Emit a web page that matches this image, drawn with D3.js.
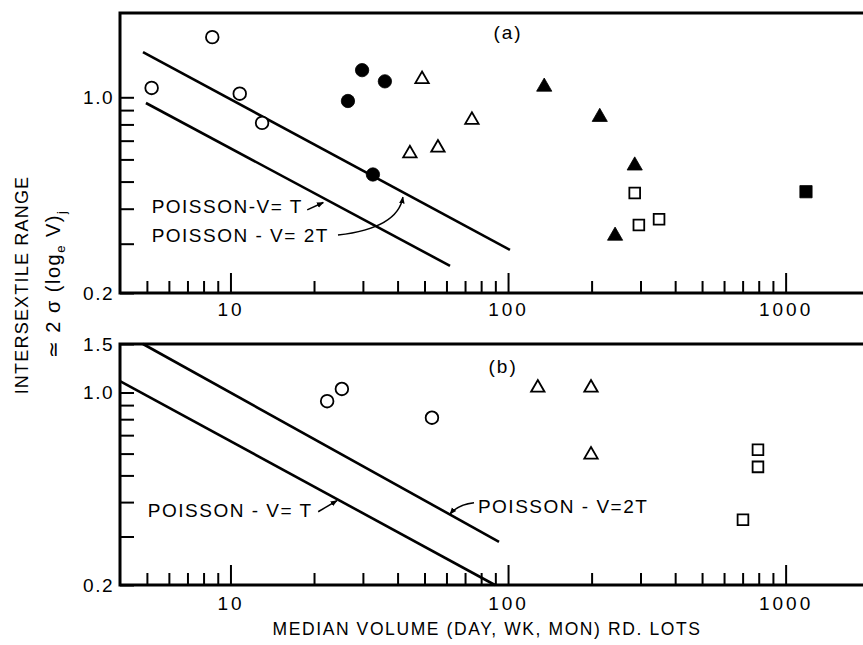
<!DOCTYPE html>
<html>
<head>
<meta charset="utf-8">
<script src="https://cdn.jsdelivr.net/npm/d3@7"></script>
<style>
  body { margin: 0; background: #fff; }
  svg { display: block; }
  text { font-family: 'Liberation Sans', Arial, sans-serif; fill: #000; }
</style>
</head>
<body>
<div id="chart"></div>
<script>
// intersextile range vs median volume, two panels (a) and (b), log-log

// tick values
var xMajorTicks = [10, 100, 1000]
var xMinorTicks = [5, 6, 7, 8, 9, 20, 30, 40, 50, 60, 70, 80, 90,
  200, 300, 400, 500, 600, 700, 800, 900]
var yMinorTicks = [0.3, 0.4, 0.5, 0.6, 0.7, 0.8, 0.9]
var yLabelsA = [0.2, 1.0]
var yLabelsB = [0.2, 1.0, 1.5]

// panel (a) points: [median volume, range]
var aOpenCircles = [[5.2, 1.08], [8.6, 1.64], [10.8, 1.03], [13.0, 0.81]]
var aFilledCircles = [[26.5, 0.97], [29.8, 1.25], [36.0, 1.14], [32.6, 0.53]]
var aOpenTriangles = [[49, 1.16], [44.3, 0.63], [55.9, 0.66], [74.1, 0.83]]
var aFilledTriangles = [[135, 1.09], [214, 0.85], [286, 0.57], [243, 0.32]]
var aOpenSquares = [[286, 0.455], [296, 0.35], [350, 0.367]]
var aFilledSquares = [[1184, 0.46]]
var aPoissonT = [[4.96, 0.954], [61.8, 0.25]]
var aPoisson2T = [[4.84, 1.45], [101.6, 0.285]]

// panel (b) points
var bOpenCircles = [[22.3, 0.93], [25.2, 1.03], [53.2, 0.81]]
var bOpenTriangles = [[128, 1.04], [199, 1.04], [199, 0.594]]
var bOpenSquares = [[795, 0.62], [795, 0.537], [702, 0.345]]
var bPoissonT = [[4.0, 1.10], [89.7, 0.2]]
var bPoisson2T = [[4.84, 1.5], [92.8, 0.287]]

var width = 863
var height = 645

var svg = d3.select('#chart')
  .append('svg')
  .attr('width', width)
  .attr('height', height)

svg.append('defs').append('marker')
  .attr('id', 'head')
  .attr('viewBox', '0 0 10 10')
  .attr('refX', 9)
  .attr('refY', 5)
  .attr('markerWidth', 7)
  .attr('markerHeight', 7)
  .attr('markerUnits', 'userSpaceOnUse')
  .attr('orient', 'auto')
  .append('path')
  .attr('d', 'M0,1 L10,5 L0,9 Z')
  .attr('fill', '#000')

// shared x scale
var x = d3.scaleLog().domain([4, 1900]).range([120, 863])

var drawPanel = function (cfg) {
  var y = d3.scaleLog().domain(cfg.yDomain).range(cfg.yRange)
  var g = svg.append('g')
  var top = cfg.yRange[1]
  var bottom = cfg.yRange[0]

  // minor ticks x
  g.append('g')
    .attr('transform', 'translate(0,' + bottom + ')')
    .call(d3.axisBottom(x).tickValues(xMinorTicks).tickSize(-12).tickSizeOuter(0).tickFormat(''))
  // major ticks x with labels
  g.append('g')
    .attr('class', 'xmajor')
    .attr('transform', 'translate(0,' + bottom + ')')
    .call(d3.axisBottom(x).tickValues(xMajorTicks).tickSize(-20).tickSizeOuter(0)
      .tickPadding(cfg.xPad).tickFormat(d3.format('d')))
  // y ticks
  g.append('g')
    .attr('transform', 'translate(120,0)')
    .call(d3.axisLeft(y).tickValues(yMinorTicks).tickSize(-14).tickSizeOuter(0).tickFormat(''))
  g.append('g')
    .attr('transform', 'translate(120,0)')
    .call(d3.axisLeft(y).tickValues(cfg.yLabels).tickSize(-14).tickSizeOuter(0)
      .tickPadding(6).tickFormat(d3.format('.1f')))

  g.selectAll('.domain').remove()
  g.selectAll('.tick line').attr('stroke', '#000').attr('stroke-width', 2)
  g.selectAll('.tick text').attr('font-size', 19).attr('fill', '#000')
    .style('letter-spacing', '1.5px')
    .style('font-family', "'Liberation Sans', Arial, sans-serif")
  g.selectAll('.xmajor .tick text').style('letter-spacing', '3px')

  // frame: left, bottom, top
  g.append('path')
    .attr('d', 'M' + width + ',' + top + 'H120V' + bottom + 'H' + width)
    .attr('fill', 'none')
    .attr('stroke', '#000')
    .attr('stroke-width', 3)

  var line = d3.line()
    .x(function (d) { return x(d[0]) })
    .y(function (d) { return y(d[1]) })

  // poisson lines
  ;[cfg.poissonT, cfg.poisson2T].forEach(function (pts) {
    g.append('path')
      .attr('d', line(pts))
      .attr('fill', 'none')
      .attr('stroke', '#000')
      .attr('stroke-width', 2.6)
  })

  // point series
  var sym = function (data, type, size, filled) {
    g.selectAll(null)
      .data(data)
      .enter()
      .append('path')
      .attr('transform', function (d) {
        return 'translate(' + x(d[0]) + ',' + y(d[1]) + ')'
      })
      .attr('d', d3.symbol().type(type).size(size))
      .attr('fill', filled ? '#000' : '#fff')
      .attr('stroke', '#000')
      .attr('stroke-width', filled ? 0.8 : 1.8)
  }
  cfg.series.forEach(function (s) { sym(s[0], s[1], s[2], s[3]) })

  // panel label
  g.append('text')
    .attr('x', x(cfg.tag[0]))
    .attr('y', y(cfg.tag[1]))
    .attr('text-anchor', 'middle')
    .attr('dy', '0.35em')
    .attr('font-size', 19)
    .style('letter-spacing', '2px')
    .text(cfg.tag[2])

  // annotations
  cfg.notes.forEach(function (n) {
    g.append('text')
      .attr('x', x(n[0]))
      .attr('y', y(n[1]))
      .attr('font-size', 19)
      .style('letter-spacing', '1.5px')
      .attr('xml:space', 'preserve')
      .text(n[2])
  })
  cfg.arrows.forEach(function (a) {
    var p0 = [x(a[0][0]), y(a[0][1])]
    var p1 = [x(a[1][0]), y(a[1][1])]
    var d = 'M' + p0[0] + ',' + p0[1]
    if (a[2]) {
      d += 'Q' + x(a[2][0]) + ',' + y(a[2][1]) + ' ' + p1[0] + ',' + p1[1]
    } else {
      d += 'L' + p1[0] + ',' + p1[1]
    }
    g.append('path')
      .attr('d', d)
      .attr('fill', 'none')
      .attr('stroke', '#000')
      .attr('stroke-width', 1.5)
      .attr('marker-end', 'url(#head)')
  })
}

// panel (a)
drawPanel({
  yDomain: [0.2, 2.0],
  yRange: [293, 13],
  yLabels: yLabelsA,
  xPad: 10,
  poissonT: aPoissonT,
  poisson2T: aPoisson2T,
  series: [
    [aOpenCircles, d3.symbolCircle, 125, false],
    [aFilledCircles, d3.symbolCircle, 140, true],
    [aOpenTriangles, d3.symbolTriangle, 78, false],
    [aFilledTriangles, d3.symbolTriangle, 100, true],
    [aOpenSquares, d3.symbolSquare, 115, false],
    [aFilledSquares, d3.symbolSquare, 150, true]
  ],
  tag: [100, 1.70, '(a)'],
  notes: [[5.2, 0.386, 'POISSON-V= T'], [5.2, 0.304, 'POISSON - V= 2T']],
  arrows: [
    [[18.9, 0.396], [21.6, 0.421]],
    [[24.4, 0.322], [41.8, 0.44], [40.1, 0.341]]
  ]
})

// panel (b)
drawPanel({
  yDomain: [0.2, 1.5],
  yRange: [585, 344],
  yLabels: yLabelsB,
  xPad: 12,
  poissonT: bPoissonT,
  poisson2T: bPoisson2T,
  series: [
    [bOpenCircles, d3.symbolCircle, 125, false],
    [bOpenTriangles, d3.symbolTriangle, 78, false],
    [bOpenSquares, d3.symbolSquare, 115, false]
  ],
  tag: [96, 1.24, '(b)'],
  notes: [[5.04, 0.353, 'POISSON - V= T'], [77.9, 0.365, 'POISSON - V=2T']],
  arrows: [
    [[20.7, 0.369], [24.2, 0.405]],
    [[75.4, 0.398], [61.8, 0.362], [66, 0.392]]
  ]
})

// axis titles
svg.append('text')
  .attr('transform', 'translate(22,285) rotate(-90)')
  .attr('text-anchor', 'middle')
  .attr('dy', '0.35em')
  .attr('font-size', 18)
  .style('letter-spacing', '1.2px')
  .text('INTERSEXTILE RANGE')

var ylab2 = svg.append('text')
  .attr('transform', 'translate(53,284) rotate(-90)')
  .attr('text-anchor', 'middle')
  .attr('dy', '0.35em')
  .attr('font-size', 20)
  .style('letter-spacing', '1.5px')
ylab2.append('tspan').text('\u2243 2 \u03c3 (log')
ylab2.append('tspan').attr('font-size', 13).attr('dy', 5).text('e')
ylab2.append('tspan').attr('dy', -5).text(' V)')
ylab2.append('tspan').attr('font-size', 13).attr('dy', 6).text('j')

svg.append('text')
  .attr('x', 487)
  .attr('y', 635)
  .attr('text-anchor', 'middle')
  .attr('font-size', 17.5)
  .style('letter-spacing', '1.6px')
  .text('MEDIAN VOLUME (DAY, WK, MON) RD. LOTS')
</script>
</body>
</html>
